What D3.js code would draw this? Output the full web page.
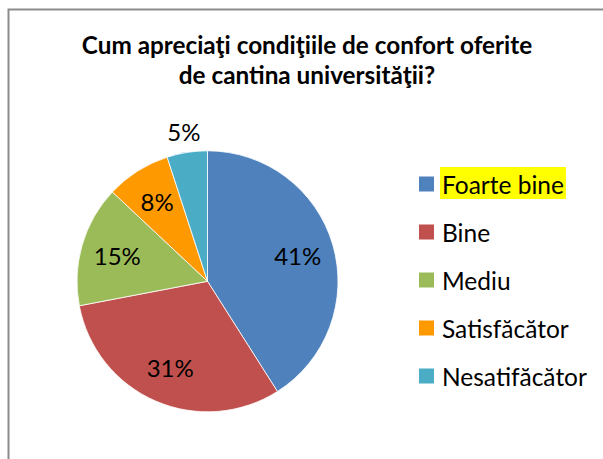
<!DOCTYPE html>
<html>
<head>
<meta charset="utf-8">
<script src="https://cdn.jsdelivr.net/npm/d3@7"></script>
<style>
  html, body { margin: 0; padding: 0; background: #fff; }
  svg { display: block; }
</style>
</head>
<body>
<svg id="chart" width="603" height="459"></svg>
<script>
// Survey answers: how students rate the comfort of the university canteen
const categories = ["Foarte bine", "Bine", "Mediu", "Satisfăcător", "Nesatifăcător"];
const values = [41, 31, 15, 8, 5];
const colors = ["#4F81BD", "#C0504D", "#9BBB59", "#FF9900", "#4BACC6"];
const titleLines = ["Cum apreciaţi condiţiile de confort oferite", "de cantina universităţii?"];
const highlighted = "Foarte bine";

const svg = d3.select("#chart");
const W = 603, H = 459;
const font = "Lato, 'Open Sans', sans-serif";

// chart frame (clipped at right and bottom)
svg.append("path")
  .attr("d", `M8.5,${H + 2} V9.5 H${W + 2}`)
  .attr("fill", "none")
  .attr("stroke", "#8c8c8c")
  .attr("stroke-width", 2);

// title
const title = svg.append("text")
  .attr("text-anchor", "middle")
  .attr("font-family", font)
  .attr("font-weight", "bold")
  .attr("font-size", 24.3)
  .attr("fill", "#000");
titleLines.forEach((t, i) => {
  title.append("tspan").attr("x", 307).attr("y", 54 + i * 29.5).text(t);
});

// pie
const cx = 207.5, cy = 281.3, r = 130.5;
const pie = d3.pie().sort(null).value(d => d.value);
const arcs = pie(categories.map((c, i) => ({ cat: c, value: values[i], color: colors[i] })));
const arc = d3.arc().innerRadius(0).outerRadius(r);

const g = svg.append("g").attr("transform", `translate(${cx},${cy})`);
g.selectAll("path.slice")
  .data(arcs)
  .join("path")
  .attr("class", "slice")
  .attr("d", arc)
  .attr("fill", d => d.data.color)
  .attr("stroke", "#fff")
  .attr("stroke-width", 0.8);

// percentage labels: inside the slice, or just outside for thin slices
const total = d3.sum(values);
const inner = d3.arc().innerRadius(r * 0.72).outerRadius(r * 0.72);
const outer = d3.arc().innerRadius(r * 1.16).outerRadius(r * 1.16);
g.selectAll("text.pct")
  .data(arcs)
  .join("text")
  .attr("class", "pct")
  .attr("transform", d => {
    const p = (d.data.value / total < 0.06 ? outer : inner).centroid(d);
    return `translate(${p[0]},${p[1]})`;
  })
  .attr("text-anchor", "middle")
  .attr("dominant-baseline", "central")
  .attr("font-family", font)
  .attr("font-size", 24)
  .attr("fill", "#000")
  .text(d => d3.format(".0%")(d.data.value / total));

// legend
const legend = svg.append("g").attr("transform", "translate(419,184)");
const rows = legend.selectAll("g.row")
  .data(categories)
  .join("g")
  .attr("class", "row")
  .attr("transform", (d, i) => `translate(0,${i * 48})`);

rows.append("rect")
  .attr("x", 0).attr("y", -7.5)
  .attr("width", 15).attr("height", 15)
  .attr("fill", (d, i) => colors[i]);

const labels = rows.append("text")
  .attr("x", 23)
  .attr("y", 0)
  .attr("dominant-baseline", "central")
  .attr("font-family", font)
  .attr("font-size", 24.5)
  .attr("fill", "#000")
  .text(d => d);

// yellow highlight behind the first entry
labels.filter(d => d === highlighted).each(function () {
  const b = this.getBBox();
  d3.select(this.parentNode).insert("rect", "text")
    .attr("x", b.x - 2).attr("y", -17)
    .attr("width", b.width + 4).attr("height", 32)
    .attr("fill", "#FFFF00");
});
</script>
</body>
</html>
